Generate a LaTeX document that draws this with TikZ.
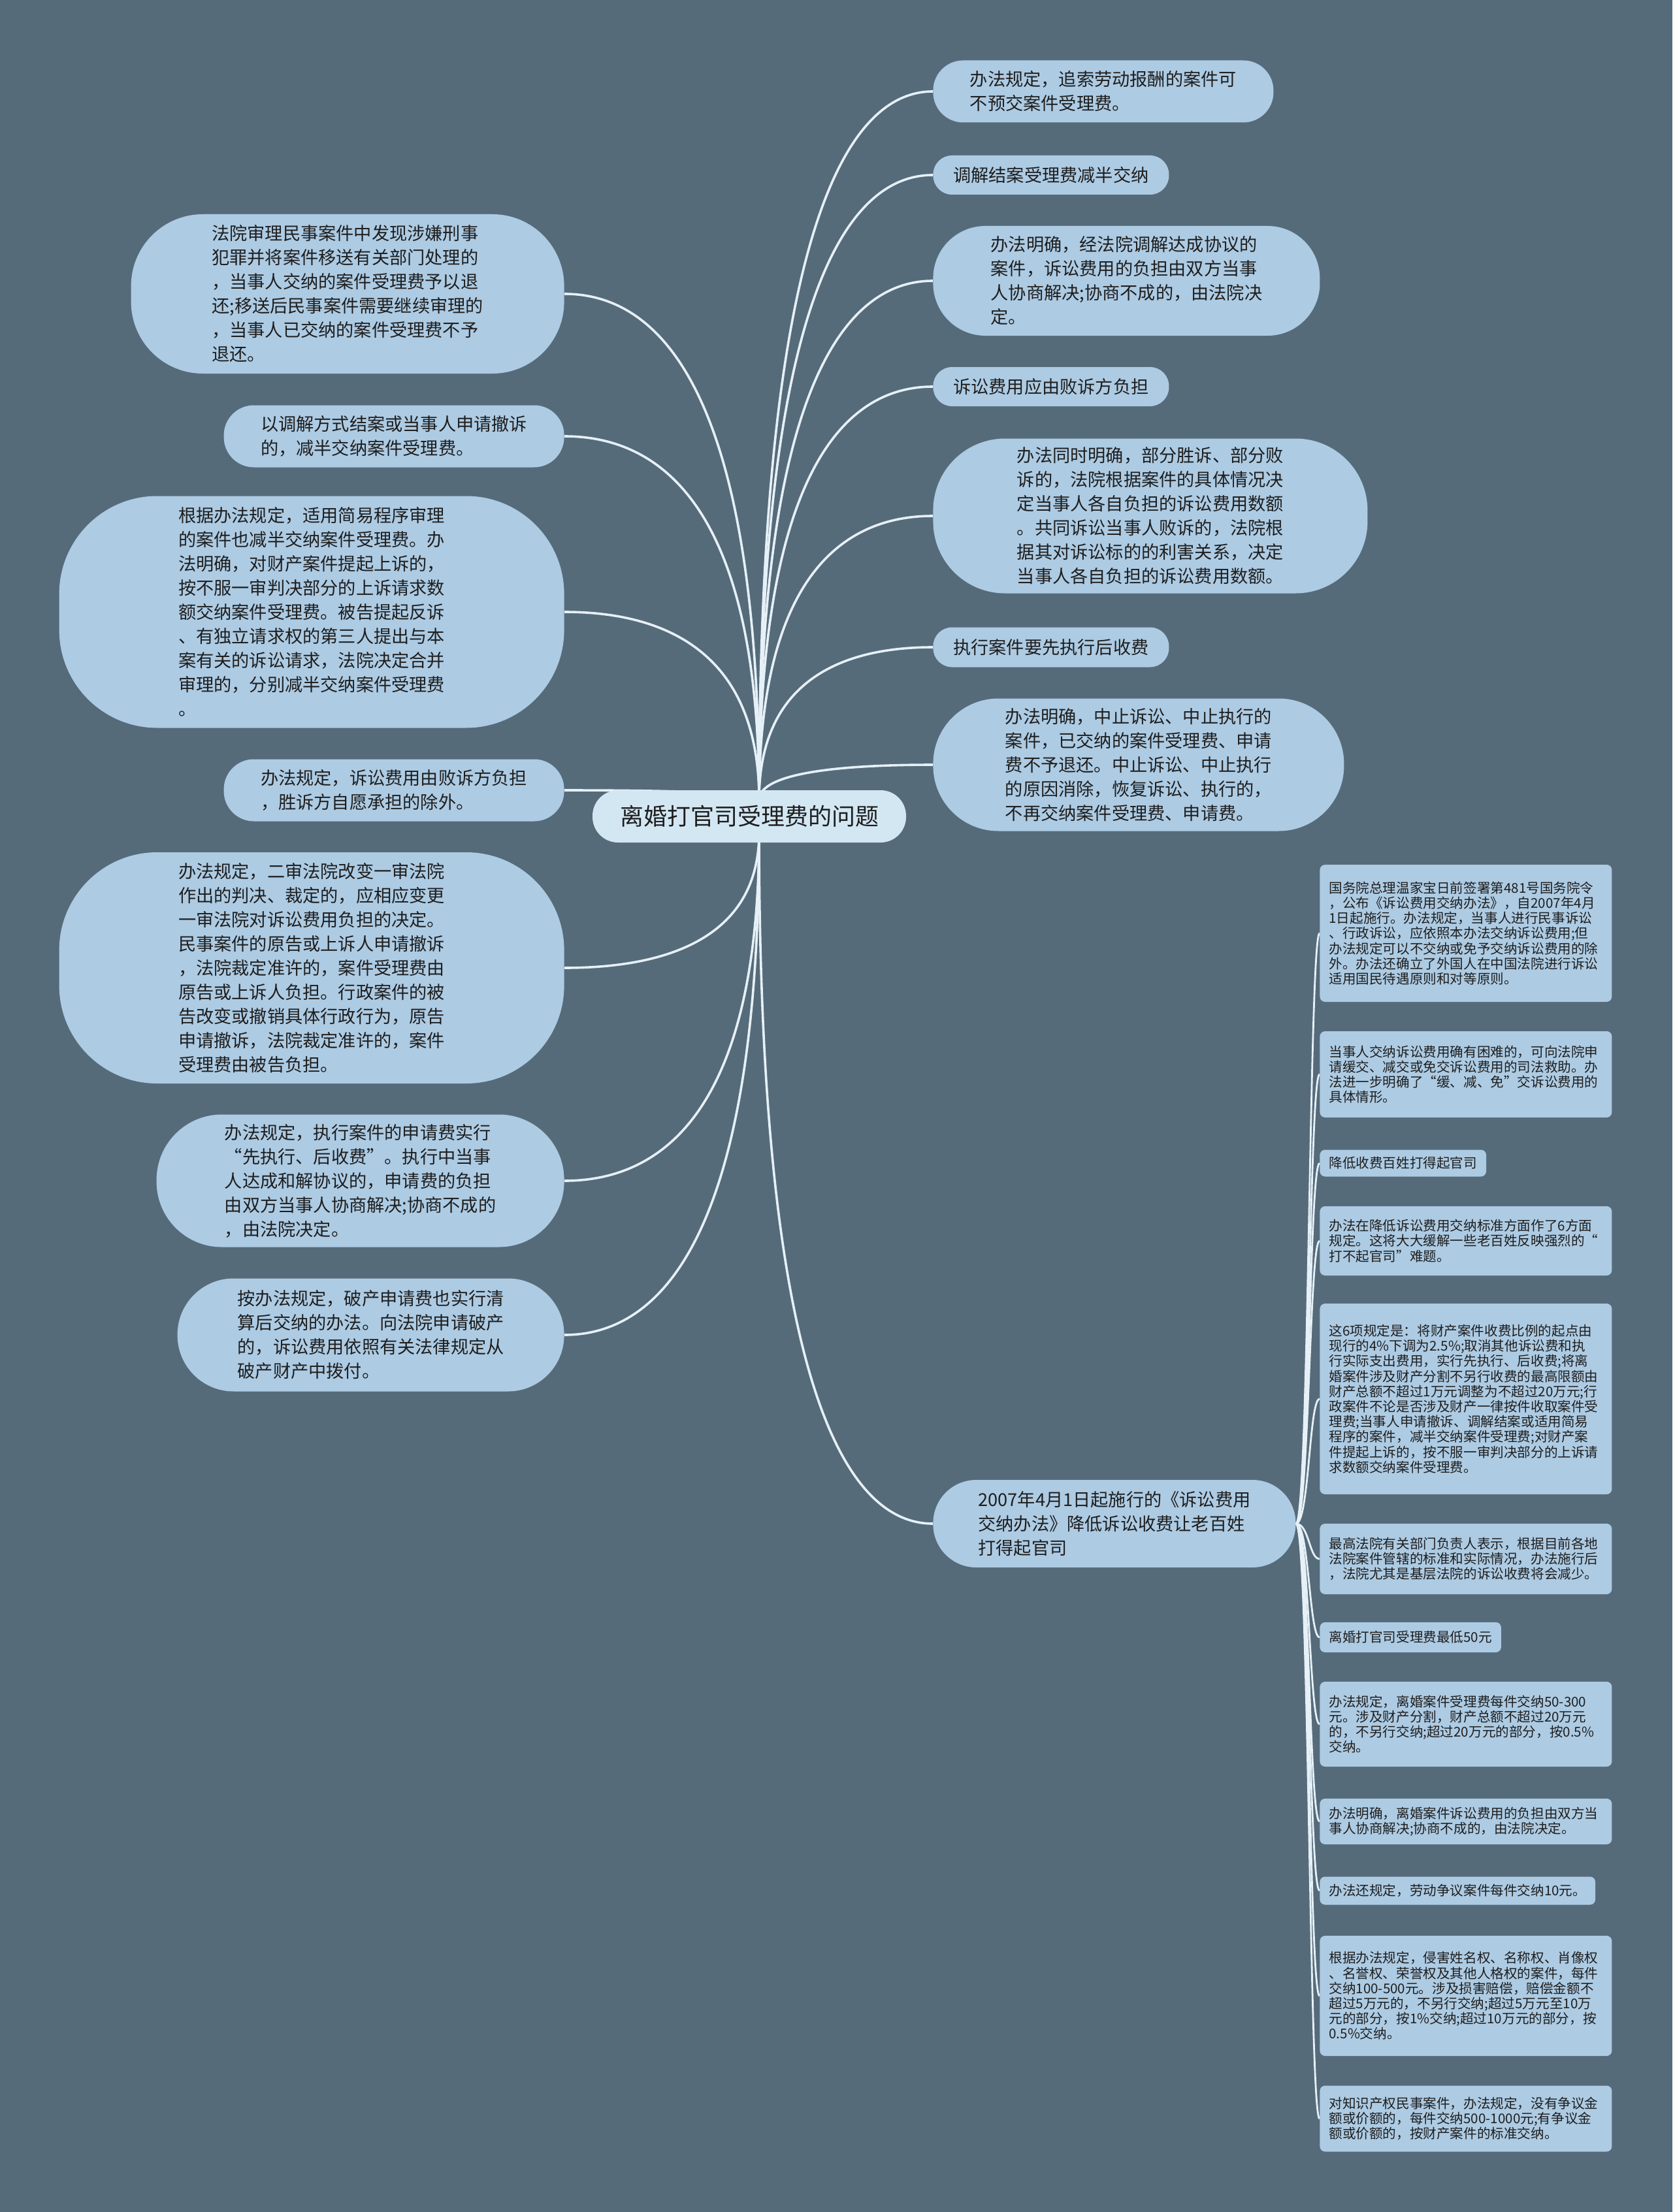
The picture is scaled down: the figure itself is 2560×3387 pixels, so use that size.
\documentclass[tikz,border=0pt]{standalone}
\usepackage{fontspec}
\setmainfont{Noto Sans CJK SC}
\usetikzlibrary{backgrounds,calc}
\definecolor{bg}{HTML}{566B7A}
\definecolor{nodefill}{HTML}{ADCBE3}
\definecolor{rootfill}{HTML}{D3E7F3}
\definecolor{linec}{HTML}{E6F0F7}
\definecolor{txt}{HTML}{1E1E1E}
\newcommand{\mfnt}{\fontsize{13.6pt}{18.5pt}\selectfont}
\newcommand{\sfnt}{\fontsize{10.3pt}{11.6pt}\selectfont}
\newcommand{\rfnt}{\fontsize{18pt}{22pt}\selectfont}
\tikzset{
  mnode/.style={fill=nodefill, text=txt, align=left, font=\mfnt, inner sep=0pt},
  lnode/.style={mnode, anchor=east},
  rnode/.style={mnode, anchor=west},
  subnode/.style={fill=nodefill, text=txt, align=left, font=\sfnt, anchor=west,
    rounded corners=4pt, inner xsep=7pt, inner ysep=0pt},
  subwide/.style={subnode, text width=209.5pt},
  conn/.style={draw=linec, line width=1.8pt},
  sconn/.style={draw=linec, line width=1.4pt},
  mmcurve/.style={to path={.. controls ($(\tikztostart)!0.8!(\tikztostart |- \tikztotarget)$)
      and ($(\tikztotarget)!0.5!(\tikztostart |- \tikztotarget)$) .. (\tikztotarget)}},
  subcurve/.style={to path={.. controls (trunk) and (trunk |- \tikztotarget) .. (\tikztotarget)}}
}
\begin{document}
\begin{tikzpicture}[x=0.5pt,y=-0.5pt]
\useasboundingbox (0,0) rectangle (2560,3387);

% root
\node[fill=rootfill, text=txt, font=\rfnt, minimum width=240pt, minimum height=40pt,
  rounded corners=19.5pt, inner sep=0pt] (root) at (1147,1250) {离婚打官司受理费的问题};
\coordinate (rt) at (1162,1225);
\coordinate (rb) at (1162,1275);

% left nodes
\node[lnode, minimum width=331.5pt, minimum height=122pt, rounded corners=55pt] (L1) at (864,450)
{法院审理民事案件中发现涉嫌刑事\\犯罪并将案件移送有关部门处理的\\，当事人交纳的案件受理费予以退\\还;移送后民事案件需要继续审理的\\，当事人已交纳的案件受理费不予\\退还。};
\node[lnode, minimum width=260.5pt, minimum height=47.5pt, rounded corners=23pt] (L2) at (864,668)
{以调解方式结案或当事人申请撤诉\\的，减半交纳案件受理费。};
\node[lnode, minimum width=386.5pt, minimum height=177.5pt, rounded corners=75pt] (L3) at (864,937)
{根据办法规定，适用简易程序审理\\的案件也减半交纳案件受理费。办\\法明确，对财产案件提起上诉的，\\按不服一审判决部分的上诉请求数\\额交纳案件受理费。被告提起反诉\\、有独立请求权的第三人提出与本\\案有关的诉讼请求，法院决定合并\\审理的，分别减半交纳案件受理费\\。};
\node[lnode, minimum width=260.5pt, minimum height=47.5pt, rounded corners=23pt] (L4) at (864,1210)
{办法规定，诉讼费用由败诉方负担\\，胜诉方自愿承担的除外。};
\node[lnode, minimum width=386.5pt, minimum height=177pt, rounded corners=75pt] (L5) at (864,1482)
{办法规定，二审法院改变一审法院\\作出的判决、裁定的，应相应变更\\一审法院对诉讼费用负担的决定。\\民事案件的原告或上诉人申请撤诉\\，法院裁定准许的，案件受理费由\\原告或上诉人负担。行政案件的被\\告改变或撤销具体行政行为，原告\\申请撤诉，法院裁定准许的，案件\\受理费由被告负担。};
\node[lnode, minimum width=312pt, minimum height=101.5pt, rounded corners=50pt] (L6) at (864,1808)
{办法规定，执行案件的申请费实行\\“先执行、后收费”。执行中当事\\人达成和解协议的，申请费的负担\\由双方当事人协商解决;协商不成的\\，由法院决定。};
\node[lnode, minimum width=296pt, minimum height=86.5pt, rounded corners=43pt] (L7) at (864,2044)
{按办法规定，破产申请费也实行清\\算后交纳的办法。向法院申请破产\\的，诉讼费用依照有关法律规定从\\破产财产中拨付。};

% right nodes
\node[rnode, minimum width=260.5pt, minimum height=47.5pt, rounded corners=23pt] (R1) at (1428,140)
{办法规定，追索劳动报酬的案件可\\不预交案件受理费。};
\node[rnode, minimum width=180.5pt, minimum height=30pt, rounded corners=14.5pt] (R2) at (1428,268)
{调解结案受理费减半交纳};
\node[rnode, minimum width=296pt, minimum height=84pt, rounded corners=40pt] (R3) at (1428,430)
{办法明确，经法院调解达成协议的\\案件，诉讼费用的负担由双方当事\\人协商解决;协商不成的，由法院决\\定。};
\node[rnode, minimum width=180.5pt, minimum height=30pt, rounded corners=14.5pt] (R4) at (1428,592)
{诉讼费用应由败诉方负担};
\node[rnode, minimum width=332.5pt, minimum height=118.5pt, rounded corners=55pt] (R5) at (1428,790)
{办法同时明确，部分胜诉、部分败\\诉的，法院根据案件的具体情况决\\定当事人各自负担的诉讼费用数额\\。共同诉讼当事人败诉的，法院根\\据其对诉讼标的的利害关系，决定\\当事人各自负担的诉讼费用数额。};
\node[rnode, minimum width=180.5pt, minimum height=30.5pt, rounded corners=14.5pt] (R6) at (1428,991)
{执行案件要先执行后收费};
\node[rnode, minimum width=314.5pt, minimum height=101.5pt, rounded corners=50pt] (R7) at (1428,1171)
{办法明确，中止诉讼、中止执行的\\案件，已交纳的案件受理费、申请\\费不予退还。中止诉讼、中止执行\\的原因消除，恢复诉讼、执行的，\\不再交纳案件受理费、申请费。};
\node[rnode, minimum width=277.5pt, minimum height=67pt, rounded corners=33pt] (R8) at (1428,2333)
{2007年4月1日起施行的《诉讼费用\\交纳办法》降低诉讼收费让老百姓\\打得起官司};
\coordinate (trunk) at (2004,2333);

% sub nodes
\node[subwide, minimum height=105pt] (S1) at (2020,1429)
{国务院总理温家宝日前签署第481号国务院令\\，公布《诉讼费用交纳办法》，自2007年4月\\1日起施行。办法规定，当事人进行民事诉讼\\、行政诉讼，应依照本办法交纳诉讼费用;但\\办法规定可以不交纳或免予交纳诉讼费用的除\\外。办法还确立了外国人在中国法院进行诉讼\\适用国民待遇原则和对等原则。};
\node[subwide, minimum height=66pt] (S2) at (2020,1645)
{当事人交纳诉讼费用确有困难的，可向法院申\\请缓交、减交或免交诉讼费用的司法救助。办\\法进一步明确了“缓、减、免”交诉讼费用的\\具体情形。};
\node[subnode, minimum height=20.5pt] (S3) at (2020,1781)
{降低收费百姓打得起官司};
\node[subwide, minimum height=53pt] (S4) at (2020,1900)
{办法在降低诉讼费用交纳标准方面作了6方面\\规定。这将大大缓解一些老百姓反映强烈的“\\打不起官司”难题。};
\node[subwide, minimum height=146pt] (S5) at (2020,2142)
{这6项规定是：将财产案件收费比例的起点由\\现行的4\%下调为2.5\%;取消其他诉讼费和执\\行实际支出费用，实行先执行、后收费;将离\\婚案件涉及财产分割不另行收费的最高限额由\\财产总额不超过1万元调整为不超过20万元;行\\政案件不论是否涉及财产一律按件收取案件受\\理费;当事人申请撤诉、调解结案或适用简易\\程序的案件，减半交纳案件受理费;对财产案\\件提起上诉的，按不服一审判决部分的上诉请\\求数额交纳案件受理费。};
\node[subwide, minimum height=54pt] (S6) at (2020,2387)
{最高法院有关部门负责人表示，根据目前各地\\法院案件管辖的标准和实际情况，办法施行后\\，法院尤其是基层法院的诉讼收费将会减少。};
\node[subnode, minimum height=23pt] (S7) at (2020,2507)
{离婚打官司受理费最低50元};
\node[subwide, minimum height=65pt] (S8) at (2020,2640)
{办法规定，离婚案件受理费每件交纳50-300\\元。涉及财产分割，财产总额不超过20万元\\的，不另行交纳;超过20万元的部分，按0.5\%\\交纳。};
\node[subwide, minimum height=35pt] (S9) at (2020,2789)
{办法明确，离婚案件诉讼费用的负担由双方当\\事人协商解决;协商不成的，由法院决定。};
\node[subnode, minimum height=21.5pt] (S10) at (2020,2895)
{办法还规定，劳动争议案件每件交纳10元。};
\node[subwide, minimum height=92pt] (S11) at (2020,3056)
{根据办法规定，侵害姓名权、名称权、肖像权\\、名誉权、荣誉权及其他人格权的案件，每件\\交纳100-500元。涉及损害赔偿，赔偿金额不\\超过5万元的，不另行交纳;超过5万元至10万\\元的部分，按1\%交纳;超过10万元的部分，按\\0.5\%交纳。};
\node[subwide, minimum height=50.5pt] (S12) at (2020,3244)
{对知识产权民事案件，办法规定，没有争议金\\额或价额的，每件交纳500-1000元;有争议金\\额或价额的，按财产案件的标准交纳。};

\begin{scope}[on background layer]
\fill[bg] (0,0) rectangle (2560,3387);
\foreach \n in {L1,L2,L3,L4}
  \draw[conn] (rt) to[mmcurve] (\n.east);
\foreach \n in {L5,L6,L7}
  \draw[conn] (rb) to[mmcurve] (\n.east);
\foreach \n in {R1,R2,R3,R4,R5,R6,R7}
  \draw[conn] (rt) to[mmcurve] (\n.west);
\draw[conn] (rb) to[mmcurve] (R8.west);
\foreach \n in {S1,S2,S3,S4,S5,S6,S7,S8,S9,S10,S11,S12}
  \draw[sconn] (R8.east) to[subcurve] (\n.west);
\end{scope}
\end{tikzpicture}
\end{document}
